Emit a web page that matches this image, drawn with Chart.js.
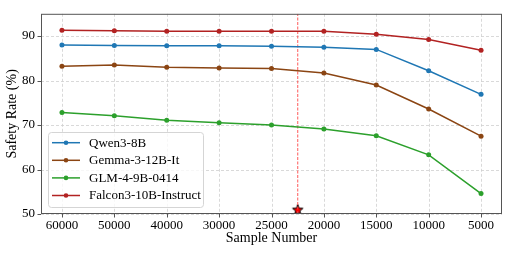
<!DOCTYPE html>
<html>
<head>
<meta charset="utf-8">
<script src="https://cdn.jsdelivr.net/npm/chart.js@4.4.0/dist/chart.umd.min.js"></script>
<style>
html, body { margin: 0; padding: 0; background: #fff; }
</style>
</head>
<body>
<canvas id="myChart" width="510" height="255"></canvas>
<script>
// data
const sampleNumbers = ['60000', '50000', '40000', '30000', '25000', '20000', '15000', '10000', '5000'];
const qwen = [88.0, 87.9, 87.8, 87.8, 87.7, 87.5, 87.0, 82.2, 76.9];
const gemma = [83.2, 83.5, 83.0, 82.8, 82.7, 81.7, 79.0, 73.6, 67.5];
const glm = [72.8, 72.1, 71.1, 70.5, 70.0, 69.1, 67.6, 63.3, 54.6];
const falcon = [91.3, 91.2, 91.1, 91.1, 91.1, 91.1, 90.4, 89.2, 86.8];
const yTicks = [50, 60, 70, 80, 90];
const cutoffPos = 4.5;   // between 25000 and 20000
const starValue = 51;

const seriesNames = ['Qwen3-8B', 'Gemma-3-12B-It', 'GLM-4-9B-0414', 'Falcon3-10B-Instruct'];
const seriesColors = ['#1f77b4', '#8b4513', '#2ca02c', '#b22222'];
const seriesData = [qwen, gemma, glm, falcon];

function toPoints(arr) {
    return arr.map((v, i) => ({x: i, y: v}));
}

function makeStar() {
    const c = document.createElement('canvas');
    c.width = 14; c.height = 14;
    const g = c.getContext('2d');
    g.beginPath();
    for (let i = 0; i < 10; i++) {
        const r = i % 2 === 0 ? 5.5 : 2.3;
        const a = -Math.PI / 2 + i * Math.PI / 5;
        const px = 7 + r * Math.cos(a), py = 7.5 + r * Math.sin(a);
        if (i === 0) g.moveTo(px, py); else g.lineTo(px, py);
    }
    g.closePath();
    g.fillStyle = '#ff0000';
    g.fill();
    g.lineWidth = 1;
    g.strokeStyle = '#000';
    g.stroke();
    return c;
}

const serif = "'Liberation Serif', 'DejaVu Serif', serif";

const datasets = seriesData.map((arr, i) => ({
    label: seriesNames[i],
    data: toPoints(arr),
    borderColor: seriesColors[i],
    backgroundColor: seriesColors[i],
    borderWidth: 1.5,
    pointRadius: 2.5,
    pointHoverRadius: 2.5,
    pointBorderWidth: 0,
    showLine: true,
    tension: 0
}));

datasets.push({
    label: 'cutoff',
    data: [{x: cutoffPos, y: 50}, {x: cutoffPos, y: 95}],
    borderColor: 'rgba(255, 70, 70, 0.75)',
    borderWidth: 1.2,
    borderDash: [3, 1.5],
    pointRadius: 0,
    showLine: true
});
datasets.push({
    label: 'star',
    data: [{x: cutoffPos, y: starValue}],
    pointStyle: makeStar(),
    showLine: false
});

const grid = {
    id: 'grid',
    beforeDatasetsDraw(chart) {
        const ctx = chart.ctx;
        const a = chart.chartArea;
        const xs = chart.scales.x, ys = chart.scales.y;
        ctx.save();
        ctx.strokeStyle = '#cfcfcf';
        ctx.lineWidth = 0.8;
        ctx.setLineDash([3, 2]);
        ctx.beginPath();
        xs.ticks.forEach(t => {
            const px = Math.round(xs.getPixelForValue(t.value)) + 0.5;
            ctx.moveTo(px, a.top);
            ctx.lineTo(px, a.bottom);
        });
        ys.ticks.forEach(t => {
            const py = Math.round(ys.getPixelForValue(t.value)) + 0.5;
            ctx.moveTo(a.left, py);
            ctx.lineTo(a.right, py);
        });
        ctx.stroke();
        ctx.restore();
    }
};

const frame = {
    id: 'frame',
    afterDraw(chart) {
        const ctx = chart.ctx;
        const a = chart.chartArea;
        const xs = chart.scales.x, ys = chart.scales.y;
        ctx.save();
        ctx.strokeStyle = '#555';
        ctx.lineWidth = 1;
        ctx.strokeRect(a.left + 0.5, a.top + 0.5, a.right - a.left - 1, a.bottom - a.top - 1);
        ctx.beginPath();
        xs.ticks.forEach(t => {
            const px = Math.round(xs.getPixelForValue(t.value)) + 0.5;
            ctx.moveTo(px, a.bottom);
            ctx.lineTo(px, a.bottom + 3.5);
        });
        ys.ticks.forEach(t => {
            const py = Math.round(ys.getPixelForValue(t.value)) + 0.5;
            ctx.moveTo(a.left, py);
            ctx.lineTo(a.left - 3.5, py);
        });
        ctx.stroke();

        // legend box in lower left
        const bx = 48, by = 132, bw = 155, bh = 75;
        ctx.beginPath();
        ctx.roundRect(bx + 0.5, by + 0.5, bw, bh, 3);
        ctx.fillStyle = 'rgba(255,255,255,0.8)';
        ctx.fill();
        ctx.strokeStyle = '#d5d5d5';
        ctx.stroke();
        ctx.font = '13px ' + serif;
        ctx.textBaseline = 'middle';
        seriesNames.forEach((name, i) => {
            const y = 142.7 + i * 17.6;
            ctx.strokeStyle = seriesColors[i];
            ctx.lineWidth = 1.5;
            ctx.beginPath();
            ctx.moveTo(52, y);
            ctx.lineTo(80, y);
            ctx.stroke();
            ctx.fillStyle = seriesColors[i];
            ctx.beginPath();
            ctx.arc(66, y, 2.3, 0, Math.PI * 2);
            ctx.fill();
            ctx.fillStyle = '#000';
            ctx.fillText(name, 89, y + 0.5);
        });
        ctx.restore();
    }
};

const ctx = document.getElementById('myChart').getContext('2d');
const myChart = new Chart(ctx, {
    type: 'scatter',
    data: {datasets: datasets},
    options: {
        responsive: false,
        animation: false,
        devicePixelRatio: 1,
        layout: {padding: {left: 0, top: 8, right: 8, bottom: 0}},
        plugins: {
            legend: {display: false},
            tooltip: {enabled: false}
        },
        scales: {
            x: {
                type: 'linear',
                min: -0.4,
                max: 8.4,
                afterBuildTicks: (scale) => {
                    scale.ticks = sampleNumbers.map((s, i) => ({value: i}));
                },
                afterFit: (scale) => { scale.height = 41; },
                ticks: {
                    autoSkip: false,
                    maxRotation: 0,
                    padding: 4,
                    color: '#000',
                    font: {family: serif, size: 13},
                    callback: (v) => sampleNumbers[v]
                },
                grid: {display: false, drawTicks: false},
                border: {display: false},
                title: {
                    display: true,
                    text: 'Sample Number',
                    color: '#000',
                    font: {family: serif, size: 14},
                    padding: {top: 0, bottom: 8.6}
                }
            },
            y: {
                min: 50,
                max: 95,
                afterBuildTicks: (scale) => {
                    scale.ticks = yTicks.map(v => ({value: v}));
                },
                afterFit: (scale) => { scale.width = 41; },
                ticks: {
                    padding: 6,
                    color: '#000',
                    font: {family: serif, size: 13}
                },
                grid: {display: false, drawTicks: false},
                border: {display: false},
                title: {
                    display: true,
                    text: 'Safety Rate (%)',
                    color: '#000',
                    font: {family: serif, size: 14},
                    padding: {top: 3.6, bottom: 0}
                }
            }
        }
    },
    plugins: [grid, frame]
});
</script>
</body>
</html>
